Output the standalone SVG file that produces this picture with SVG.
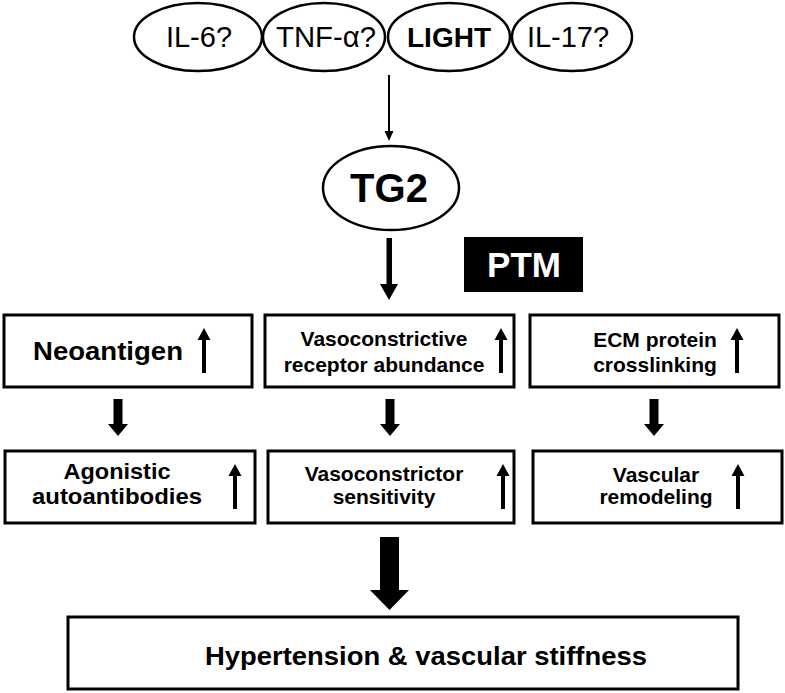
<svg xmlns="http://www.w3.org/2000/svg" width="785" height="693" viewBox="0 0 785 693">
<style>
.el{fill:#fff;stroke:#000;stroke-width:2.5}
.bx{fill:#fff;stroke:#000;stroke-width:3}
.t{font-family:"Liberation Sans",Arial,sans-serif;fill:#000;text-anchor:middle}
.b{font-weight:bold}
.ar{fill:#000;stroke:none}
</style>
<defs>
<path id="up" class="ar" d="M-2,45 V12 H-6.5 L0,0 L6.5,12 H2 V45 Z"/>
<path id="dn" class="ar" d="M-4.5,0 H4.5 V25 H10 L0,37 L-10,25 H-4.5 Z"/>
</defs>
<rect width="785" height="693" fill="#fff"/>
<g id="il6"><ellipse class="el" cx="198" cy="37" rx="64" ry="34"/><text class="t" x="199" y="47" font-size="29">IL-6?</text></g>
<g id="tnf"><ellipse class="el" cx="324" cy="37" rx="61" ry="34"/><text class="t" x="326" y="47" font-size="29" textLength="100" lengthAdjust="spacingAndGlyphs">TNF-α?</text></g>
<g id="light"><ellipse class="el" cx="449" cy="37" rx="61" ry="34"/><text class="t b" x="449" y="47" font-size="28">LIGHT</text></g>
<g id="il17"><ellipse class="el" cx="572" cy="37" rx="60" ry="34"/><text class="t" x="568" y="47" font-size="29">IL-17?</text></g>
<g id="tg2"><ellipse class="el" cx="391" cy="188" rx="68" ry="42"/><text class="t b" x="389" y="202" font-size="40">TG2</text></g>
<g id="ptm"><rect x="464" y="237" width="119" height="55" fill="#000"/><text class="t b" x="524" y="277" font-size="35" style="fill:#fff">PTM</text></g>
<g id="neoantigen"><rect class="bx" x="4" y="315" width="248" height="72"/><text class="t b" x="108" y="360" font-size="26" textLength="150" lengthAdjust="spacingAndGlyphs">Neoantigen</text><use href="#up" x="204" y="328"/></g>
<g id="receptor"><rect class="bx" x="265" y="315" width="249" height="72"/><text class="t b" x="384" y="346" font-size="21">Vasoconstrictive</text><text class="t b" x="384" y="372" font-size="21">receptor abundance</text><use href="#up" x="501" y="328"/></g>
<g id="ecm"><rect class="bx" x="530" y="315" width="249" height="72"/><text class="t b" x="655" y="347" font-size="21">ECM protein</text><text class="t b" x="655" y="372" font-size="21">crosslinking</text><use href="#up" x="737" y="328"/></g>
<g id="agonistic"><rect class="bx" x="5" y="451" width="250" height="72"/><text class="t b" x="117" y="479" font-size="22" textLength="107" lengthAdjust="spacingAndGlyphs">Agonistic</text><text class="t b" x="117" y="504" font-size="22" textLength="170" lengthAdjust="spacingAndGlyphs">autoantibodies</text><use href="#up" x="235" y="464"/></g>
<g id="sensitivity"><rect class="bx" x="268" y="451" width="246" height="72"/><text class="t b" x="384" y="481" font-size="21">Vasoconstrictor</text><text class="t b" x="384" y="504" font-size="21">sensitivity</text><use href="#up" x="503" y="464"/></g>
<g id="remodeling"><rect class="bx" x="533" y="451" width="249" height="72"/><text class="t b" x="656" y="482" font-size="21">Vascular</text><text class="t b" x="656" y="504" font-size="21">remodeling</text><use href="#up" x="738" y="464"/></g>
<g id="hypertension"><rect class="bx" x="68" y="617" width="670" height="72"/><text class="t b" x="426" y="665" font-size="26" textLength="442" lengthAdjust="spacingAndGlyphs">Hypertension &amp; vascular stiffness</text></g>
<g id="connectors">
<line x1="389" y1="75" x2="389" y2="132" stroke="#000" stroke-width="2"/>
<path class="ar" d="M384.5,131 L393.5,131 L389,141 Z"/>
<path class="ar" d="M386.5,238 H392 V284 H398 L389,300 L380,284 H386.5 Z"/>
<use href="#dn" x="118" y="399"/>
<use href="#dn" x="390" y="399"/>
<use href="#dn" x="654" y="399"/>
<path class="ar" d="M380,537 H399 V590 H409 L389.5,610 L370,590 H380 Z"/>
</g>
</svg>
